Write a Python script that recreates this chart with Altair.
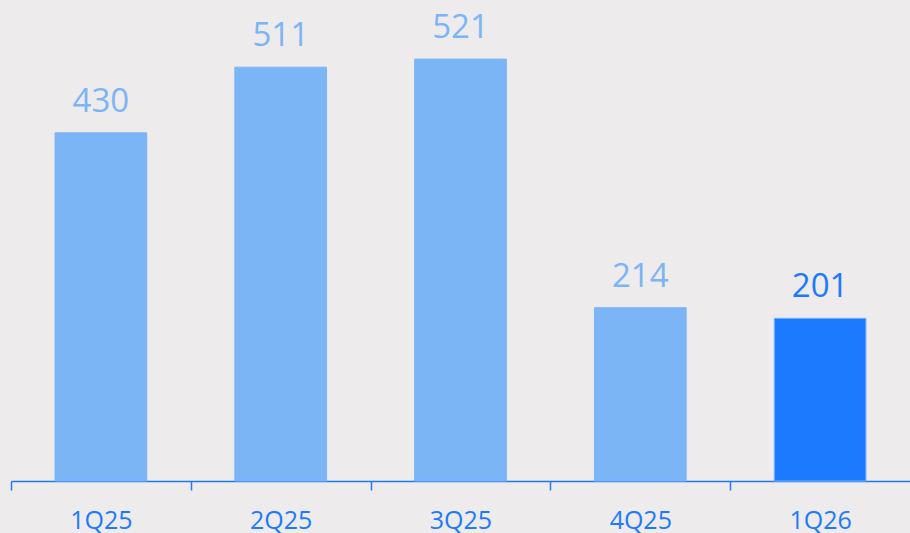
import altair as alt
import pandas as pd

quarters = ["1Q25", "2Q25", "3Q25", "4Q25", "1Q26"]
values = [430, 511, 521, 214, 201]
highlight = [False, False, False, False, True]

df = pd.DataFrame({"q": quarters, "v": values, "hl": highlight})

LIGHT = "#7CB5F5"
DARK = "#1B7AFE"
BG = "#EDEBEC"
FONT = "Open Sans"

x = alt.X("q:N", sort=quarters, title=None,
          scale=alt.Scale(paddingInner=0.49, paddingOuter=0.245),
          axis=alt.Axis(labelAngle=0, labelFont=FONT, labelFontSize=25,
                        labelColor=DARK, labelBaseline="alphabetic",
                        labelPadding=38, tickSize=9, tickColor=DARK,
                        tickWidth=1.5, domainColor=DARK, domainWidth=1.5,
                        tickOffset=-89.9, labelOffset=89.9))
y = alt.Y("v:Q", title=None, scale=alt.Scale(domain=[0, 594], nice=False),
          axis=None)

color = alt.Color("hl:N", scale=alt.Scale(domain=[False, True], range=[LIGHT, DARK]),
                  legend=None)

bars = alt.Chart(df).mark_bar(stroke=LIGHT, strokeWidth=1).encode(x=x, y=y, color=color)
labels = alt.Chart(df).mark_text(font=FONT, fontSize=33, baseline="alphabetic",
                                 dy=-21).encode(
    x=alt.X("q:N", sort=quarters), y="v:Q", text="v:Q", color=color)

chart = (bars + labels).properties(
    width=899, height=481,
    autosize=alt.AutoSizeParams(type="none"),
    padding={"left": 11, "top": 0, "right": 0, "bottom": 52},
    background=BG,
).configure_view(stroke=None)

chart.save("out.html", embed_options={"renderer": "svg", "actions": False})
